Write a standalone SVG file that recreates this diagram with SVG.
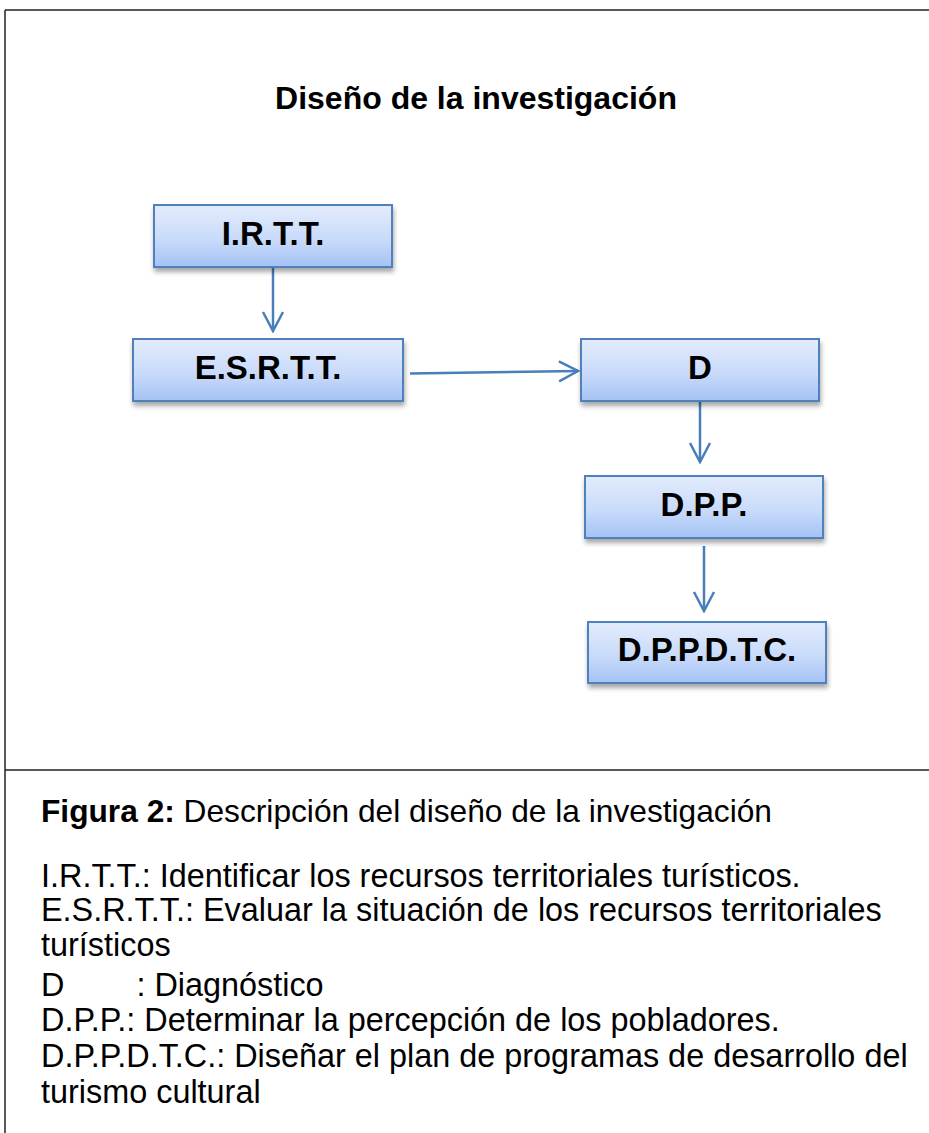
<svg xmlns="http://www.w3.org/2000/svg" width="929" height="1133" viewBox="0 0 929 1133">
<defs>
<linearGradient id="boxFill" x1="0" y1="0" x2="0" y2="1">
<stop offset="0" stop-color="#e3ecfc"/>
<stop offset="0.55" stop-color="#c9dbfa"/>
<stop offset="1" stop-color="#a4c2f4"/>
</linearGradient>
<filter id="shadow" x="-10%" y="-20%" width="125%" height="160%">
<feGaussianBlur in="SourceAlpha" stdDeviation="2.5"/>
<feOffset dx="1" dy="4" result="b"/>
<feComponentTransfer><feFuncA type="linear" slope="0.35"/></feComponentTransfer>
<feMerge><feMergeNode/><feMergeNode in="SourceGraphic"/></feMerge>
</filter>
<marker id="arrow" markerUnits="userSpaceOnUse" markerWidth="24" markerHeight="24" viewBox="-22 -12 24 24" refX="0" refY="0" orient="auto">
<path d="M -19 -10 L 0 0 L -19 10" fill="none" stroke="#4a7ebb" stroke-width="2.5"/>
</marker>
</defs>
<style>
.frame { stroke: #222; stroke-width: 1.5; fill: none; }
.box { fill: url(#boxFill); stroke: #4f81bd; stroke-width: 2; filter: url(#shadow); }
.lbl { font-family: "Liberation Sans", Arial, sans-serif; font-weight: bold; font-size: 33px; fill: #000; text-anchor: middle; }
.title { font-family: "Liberation Sans", Arial, sans-serif; font-weight: bold; font-size: 32px; fill: #000; text-anchor: middle; }
.cap { font-family: "Liberation Sans", Arial, sans-serif; font-size: 32.4px; fill: #000; }
.fig { font-size: 31.7px; }
.conn { stroke: #4a7ebb; stroke-width: 2.5; fill: none; marker-end: url(#arrow); }
</style>
<rect x="0" y="0" width="929" height="1133" fill="#ffffff"/>
<g id="frame">
<line class="frame" x1="5" y1="10" x2="929" y2="10"/>
<line class="frame" x1="5" y1="10" x2="5" y2="1133"/>
<line class="frame" x1="5" y1="770" x2="929" y2="770"/>
</g>
<text class="title" x="476" y="109">Diseño de la investigación</text>
<g id="connectors">
<line class="conn" x1="273" y1="268" x2="273" y2="331"/>
<line class="conn" x1="410" y1="373.5" x2="578" y2="371"/>
<line class="conn" x1="700" y1="397" x2="700" y2="462"/>
<line class="conn" x1="704" y1="546" x2="704" y2="611"/>
</g>
<g id="node-irtt">
<rect class="box" x="154" y="205" width="238" height="62"/>
<text class="lbl" x="273" y="245">I.R.T.T.</text>
</g>
<g id="node-esrtt">
<rect class="box" x="133" y="339" width="270" height="62"/>
<text class="lbl" x="268" y="379">E.S.R.T.T.</text>
</g>
<g id="node-d">
<rect class="box" x="581" y="339" width="238" height="62"/>
<text class="lbl" x="700" y="379">D</text>
</g>
<g id="node-dpp">
<rect class="box" x="585" y="476" width="238" height="62"/>
<text class="lbl" x="704" y="516">D.P.P.</text>
</g>
<g id="node-dppdtc">
<rect class="box" x="588" y="622" width="238" height="61"/>
<text class="lbl" x="707" y="661">D.P.P.D.T.C.</text>
</g>
<g id="caption">
<text class="cap fig" x="41" y="822"><tspan font-weight="bold">Figura 2:</tspan> Descripción del diseño de la investigación</text>
<text class="cap" x="41" y="887">I.R.T.T.: Identificar los recursos territoriales turísticos.</text>
<text class="cap" x="41" y="921">E.S.R.T.T.: Evaluar la situación de los recursos territoriales</text>
<text class="cap" x="41" y="956">turísticos</text>
<text class="cap" x="41" y="996" xml:space="preserve">D        : Diagnóstico</text>
<text class="cap" x="41" y="1031">D.P.P.: Determinar la percepción de los pobladores.</text>
<text class="cap" x="41" y="1067">D.P.P.D.T.C.: Diseñar el plan de programas de desarrollo del</text>
<text class="cap" x="41" y="1103">turismo cultural</text>
</g>
</svg>
